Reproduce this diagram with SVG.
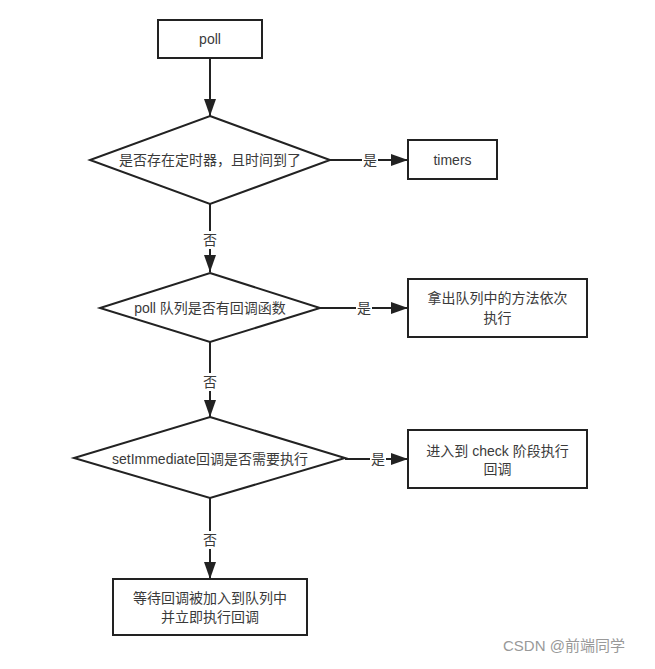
<svg xmlns="http://www.w3.org/2000/svg" width="655" height="669" viewBox="0 0 655 669">
<style>
.shape{fill:#fff;stroke:#222;stroke-width:2}
.t{font-family:"Liberation Sans","Noto Sans CJK SC",sans-serif;font-size:14px;fill:#3a3a3a;text-anchor:middle;dominant-baseline:central}
.edge{stroke:#222;stroke-width:2;fill:none}
.lbl{font-family:"Liberation Sans","Noto Sans CJK SC",sans-serif;font-size:14px;fill:#3a3a3a;text-anchor:middle;dominant-baseline:central}
.lbg{fill:#fff}
</style>
<defs>
<marker id="ah" markerUnits="userSpaceOnUse" markerWidth="18" markerHeight="12" refX="17" refY="6" orient="auto">
<path d="M0,0 L17,6 L0,12 z" fill="#222"/>
</marker>
</defs>
<rect width="655" height="669" fill="#fff"/>
<g id="connectors">
<line class="edge" x1="210" y1="58" x2="210" y2="116" marker-end="url(#ah)"/>
<line class="edge" x1="330" y1="160" x2="408" y2="160" marker-end="url(#ah)"/>
<rect class="lbg" x="362" y="151" width="16" height="18"/>
<text class="lbl" x="370" y="160">是</text>
<line class="edge" x1="210" y1="204" x2="210" y2="272" marker-end="url(#ah)"/>
<rect class="lbg" x="202" y="231" width="16" height="18"/>
<text class="lbl" x="210" y="240">否</text>
<line class="edge" x1="320" y1="308" x2="408" y2="308" marker-end="url(#ah)"/>
<rect class="lbg" x="356" y="299" width="16" height="18"/>
<text class="lbl" x="364" y="308">是</text>
<line class="edge" x1="210" y1="342" x2="210" y2="417" marker-end="url(#ah)"/>
<rect class="lbg" x="202" y="373" width="16" height="18"/>
<text class="lbl" x="210" y="382">否</text>
<line class="edge" x1="345" y1="459" x2="408" y2="459" marker-end="url(#ah)"/>
<rect class="lbg" x="370" y="450" width="16" height="18"/>
<text class="lbl" x="378" y="459">是</text>
<line class="edge" x1="210" y1="498" x2="210" y2="579" marker-end="url(#ah)"/>
<rect class="lbg" x="202" y="531" width="16" height="18"/>
<text class="lbl" x="210" y="540">否</text>
</g>
<g id="poll">
<rect class="shape" x="158" y="20" width="104" height="38"/>
<text class="t" x="210" y="39">poll</text>
</g>
<g id="decision-timer">
<polygon class="shape" points="210,116 330,160 210,204 90,160"/>
<text class="t" x="210" y="160">是否存在定时器，且时间到了</text>
</g>
<g id="timers">
<rect class="shape" x="408" y="140" width="89" height="39"/>
<text class="t" x="452.5" y="159.5">timers</text>
</g>
<g id="decision-poll-queue">
<polygon class="shape" points="210,273 320,308 210,342 100,308"/>
<text class="t" x="210" y="308">poll 队列是否有回调函数</text>
</g>
<g id="run-queue">
<rect class="shape" x="408" y="279" width="179" height="58"/>
<text class="t" x="497.5" y="298">拿出队列中的方法依次</text>
<text class="t" x="497.5" y="318">执行</text>
</g>
<g id="decision-setimmediate">
<polygon class="shape" points="210,417 345,458 210,498 74,458"/>
<text class="t" x="210" y="459">setImmediate回调是否需要执行</text>
</g>
<g id="check-phase">
<rect class="shape" x="408" y="430" width="179" height="58"/>
<text class="t" x="497.5" y="451">进入到 check 阶段执行</text>
<text class="t" x="497.5" y="469">回调</text>
</g>
<g id="wait">
<rect class="shape" x="113" y="579" width="194" height="56"/>
<text class="t" x="210" y="598">等待回调被加入到队列中</text>
<text class="t" x="210" y="617">并立即执行回调</text>
</g>
<text x="503" y="651" style="font-family:'Liberation Sans','Noto Sans CJK SC',sans-serif;font-size:15px;fill:#999">CSDN @前端同学</text>
</svg>
